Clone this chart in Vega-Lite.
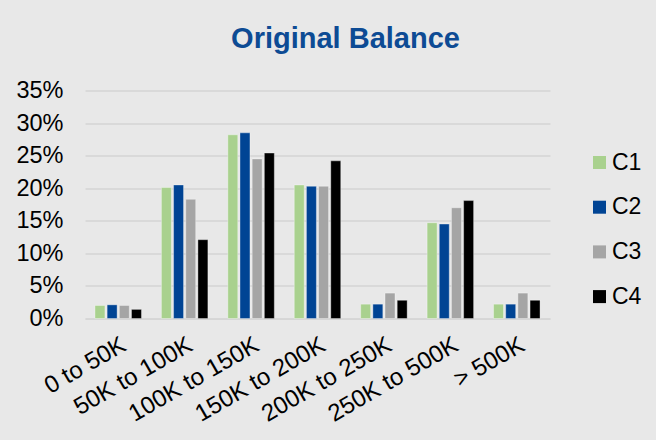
{
  "$schema": "https://vega.github.io/schema/vega-lite/v6.json",
  "width": 465,
  "height": 228,
  "autosize": {"type": "none"},
  "padding": {"left": 85, "top": 90.5, "right": 106, "bottom": 121.5},
  "background": "#e8e8e8",
  "title": {
    "text": "Original Balance",
    "font": "Liberation Sans",
    "fontSize": 29,
    "fontWeight": "bold",
    "color": "#0D4B94",
    "anchor": "middle",
    "frame": "group",
    "dx": 28,
    "baseline": "alphabetic",
    "offset": 2
  },
  "data": {
    "values": [
      {"range": "0 to 50K", "series": "C1", "value": 0.020},
      {"range": "0 to 50K", "series": "C2", "value": 0.021},
      {"range": "0 to 50K", "series": "C3", "value": 0.020},
      {"range": "0 to 50K", "series": "C4", "value": 0.014},
      {"range": "50K to 100K", "series": "C1", "value": 0.201},
      {"range": "50K to 100K", "series": "C2", "value": 0.205},
      {"range": "50K to 100K", "series": "C3", "value": 0.183},
      {"range": "50K to 100K", "series": "C4", "value": 0.121},
      {"range": "100K to 150K", "series": "C1", "value": 0.282},
      {"range": "100K to 150K", "series": "C2", "value": 0.285},
      {"range": "100K to 150K", "series": "C3", "value": 0.245},
      {"range": "100K to 150K", "series": "C4", "value": 0.254},
      {"range": "150K to 200K", "series": "C1", "value": 0.205},
      {"range": "150K to 200K", "series": "C2", "value": 0.203},
      {"range": "150K to 200K", "series": "C3", "value": 0.203},
      {"range": "150K to 200K", "series": "C4", "value": 0.242},
      {"range": "200K to 250K", "series": "C1", "value": 0.022},
      {"range": "200K to 250K", "series": "C2", "value": 0.022},
      {"range": "200K to 250K", "series": "C3", "value": 0.039},
      {"range": "200K to 250K", "series": "C4", "value": 0.028},
      {"range": "250K to 500K", "series": "C1", "value": 0.147},
      {"range": "250K to 500K", "series": "C2", "value": 0.145},
      {"range": "250K to 500K", "series": "C3", "value": 0.170},
      {"range": "250K to 500K", "series": "C4", "value": 0.181},
      {"range": "> 500K", "series": "C1", "value": 0.022},
      {"range": "> 500K", "series": "C2", "value": 0.022},
      {"range": "> 500K", "series": "C3", "value": 0.039},
      {"range": "> 500K", "series": "C4", "value": 0.028}
    ]
  },
  "mark": {"type": "bar", "stroke": "#ffffff", "strokeOpacity": 0.35, "strokeWidth": 1},
  "encoding": {
    "x": {
      "field": "range",
      "type": "nominal",
      "sort": null,
      "title": null,
      "scale": {"paddingInner": 0.3, "paddingOuter": 0.15},
      "axis": {
        "labelAngle": -30,
        "labelAlign": "right",
        "labelBaseline": "top",
        "labelPadding": 14,
        "labelDx": -6,
        "labelFont": "Liberation Sans",
        "labelFontSize": 24,
        "labelColor": "#000000",
        "labelOverlap": false,
        "ticks": false,
        "domain": true,
        "domainColor": "#d4d4d4",
        "grid": false
      }
    },
    "xOffset": {
      "field": "series",
      "type": "nominal",
      "scale": {"paddingInner": 0.18}
    },
    "y": {
      "field": "value",
      "type": "quantitative",
      "title": null,
      "scale": {"domain": [0, 0.35], "nice": false},
      "axis": {
        "format": ".0%",
        "values": [0, 0.05, 0.1, 0.15, 0.2, 0.25, 0.3, 0.35],
        "labelFont": "Liberation Sans",
        "labelFontSize": 23.5,
        "labelColor": "#000000",
        "labelPadding": 22,
        "ticks": false,
        "domain": false,
        "gridColor": "#d4d4d4",
        "gridWidth": 1.3
      }
    },
    "color": {
      "field": "series",
      "type": "nominal",
      "scale": {"domain": ["C1", "C2", "C3", "C4"], "range": ["#A9D18E", "#004494", "#A5A5A5", "#000000"]},
      "legend": {
        "title": null,
        "orient": "none",
        "legendX": 503,
        "legendY": 60.5,
        "symbolType": "square",
        "symbolSize": 169,
        "symbolStrokeWidth": 0,
        "labelFont": "Liberation Sans",
        "labelFontSize": 23,
        "labelColor": "#000000",
        "labelOffset": 1,
        "rowPadding": 20.7
      }
    }
  },
  "config": {"view": {"stroke": null}}
}
